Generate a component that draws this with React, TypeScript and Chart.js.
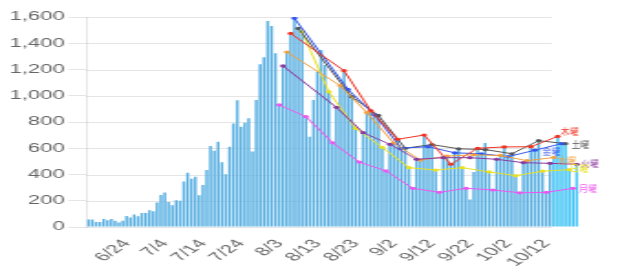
import React, { useEffect, useRef } from 'react';
import { Chart, registerables } from 'chart.js';
Chart.register(...registerables);

// ---- data ----
const START_DATE = '2020-06-14';
const TICK_LABELS = ['6/24', '7/4', '7/14', '7/24', '8/3', '8/13', '8/23', '9/2', '9/12', '9/22', '10/2', '10/12'];
const LAST_WEEK_FROM = '10/14';

const DAILY = [
  57, 57, 38, 38, 61, 51, 61, 48, 35, 48,
  84, 73, 95, 81, 106, 106, 127, 120, 187, 243,
  263, 190, 165, 203, 200, 347, 413, 367, 382, 242,
  320, 434, 617, 581, 650, 493, 401, 612, 788, 965,
  764, 795, 828, 575, 968, 1240, 1293, 1570, 1531, 1323,
  935, 1227, 1340, 1475, 1590, 1513, 1470, 841, 688, 968,
  1183, 1349, 1234, 1031, 642, 912, 1077, 1191, 1049, 993,
  752, 495, 719, 871, 886, 855, 850, 607, 427, 630,
  640, 668, 600, 600, 452, 295, 516, 510, 701, 612,
  628, 434, 264, 528, 540, 478, 565, 596, 452, 300,
  210, 420, 600, 558, 640, 420, 282, 516, 545, 610,
  536, 558, 391, 264, 490, 505, 612, 585, 658, 425,
  269, 485, 530, 700, 635, 635, 437, 297, 478,
];

const MON = [930, 841, 642, 495, 427, 295, 264, 295, 282, 261, 264, 295];
const TUE = [1227, null, 912, 719, 630, 516, 528, 528, 516, 490, 485, 478];
const WED = [1333, null, 1077, 871, 640, 510, 540, 550, 545, 505, 530];
const THU = [1475, null, 1191, 886, 668, 701, 478, 600, 610, 612, 690];
const FRI = [1590, null, 1049, 855, 600, 612, 565, 558, 536, 585, 635];
const SAT = [1513, null, 993, 850, 600, 628, 596, 590, 558, 658, 635];
const SUN = [1488, 1031, 752, 607, 452, 434, 452, 420, 391, 425, 437];

const WEEKDAY_SERIES = [
  { name: '月曜', start: '8/3', values: MON, color: '#ee55ee', dx: 6, dy: 0, align: 'left' },
  { name: '火曜', start: '8/4', values: TUE, color: '#8a3a9e', dx: 4, dy: -1, align: 'left' },
  { name: '水曜', start: '8/5', values: WED, color: '#f0a040', dx: 4, dy: 3, align: 'left' },
  { name: '木曜', start: '8/6', values: THU, color: '#ee3322', dx: 3, dy: -5, align: 'left' },
  { name: '金曜', start: '8/7', values: FRI, color: '#3355ee', dx: -1, dy: 8, align: 'right' },
  { name: '土曜', start: '8/8', values: SAT, color: '#555555', dx: 6, dy: 1, align: 'left' },
  { name: '日曜', start: '8/9', values: SUN, color: '#e8e020', dx: 1, dy: -1, align: 'left' },
];

// ---- layout ----
const W = 339;
const H = 267;
const SX = 620 / W;
const FONT = "'Liberation Sans', Arial, Helvetica, sans-serif";

function buildLabels(): string[] {
  const d = new Date(START_DATE + 'T00:00:00');
  const out: string[] = [];
  for (let i = 0; i < DAILY.length; i++) {
    out.push(`${d.getMonth() + 1}/${d.getDate()}`);
    d.setDate(d.getDate() + 1);
  }
  return out;
}

export default function App() {
  const ref = useRef<HTMLCanvasElement>(null);
  useEffect(() => {
    const canvas = ref.current!;
    const labels = buildLabels();
    const lastWeekIdx = labels.indexOf(LAST_WEEK_FROM);

    const lineSets = WEEKDAY_SERIES.map((s) => {
      const data: (number | null)[] = labels.map(() => null);
      const st = labels.indexOf(s.start);
      s.values.forEach((v, k) => {
        if (st + 7 * k < data.length) data[st + 7 * k] = v;
      });
      return {
        type: 'line' as const,
        label: s.name,
        data,
        borderColor: s.color,
        backgroundColor: s.color,
        borderWidth: 1,
        pointRadius: 1.6,
        pointBorderWidth: 0,
        pointHoverRadius: 1.6,
        spanGaps: true,
        tension: 0,
        order: 0,
        fill: false,
      };
    });

    const barColors = DAILY.map((_, i) => (i >= lastWeekIdx ? 'rgba(62,196,245,1)' : 'rgba(90,176,226,1)'));

    const partialGrid = {
      id: 'partialGrid',
      beforeDatasetsDraw(chart: any) {
        const { ctx, chartArea, scales } = chart;
        const x = scales.x;
        const y = scales.y;
        const half = (x.getPixelForValue(1) - x.getPixelForValue(0)) / 2;
        const endX = x.getPixelForValue(lastWeekIdx) - half;
        ctx.save();
        ctx.strokeStyle = 'rgba(0,0,0,0.1)';
        ctx.lineWidth = 1;
        y.ticks.forEach((t: any) => {
          const py = Math.round(y.getPixelForValue(t.value)) + 0.5;
          ctx.beginPath();
          ctx.moveTo(chartArea.left, py);
          ctx.lineTo(endX, py);
          ctx.stroke();
        });
        ctx.restore();
      },
    };

    const endLabels = {
      id: 'endLabels',
      afterDatasetsDraw(chart: any) {
        const { ctx } = chart;
        chart.data.datasets.forEach((ds: any, i: number) => {
          if (ds.type !== 'line') return;
          const spec = WEEKDAY_SERIES.find((s) => s.name === ds.label)!;
          let idx = -1;
          ds.data.forEach((v: any, k: number) => {
            if (v !== null) idx = k;
          });
          const el = chart.getDatasetMeta(i).data[idx];
          if (!el) return;
          ctx.save();
          ctx.translate(el.x, el.y);
          ctx.scale(1 / SX, 1);
          ctx.fillStyle = spec.color;
          ctx.font = "9px 'Noto Sans CJK JP', sans-serif";
          ctx.textAlign = spec.align;
          ctx.textBaseline = 'middle';
          ctx.fillText(spec.name, spec.dx, spec.dy);
          ctx.restore();
        });
      },
    };

    const chart = new Chart(canvas, {
      type: 'bar',
      data: {
        labels,
        datasets: [
          ...lineSets,
          {
            type: 'bar' as const,
            label: 'daily',
            data: DAILY,
            backgroundColor: barColors,
            borderWidth: 0,
            categoryPercentage: 0.8,
            barPercentage: 0.9,
            order: 10,
          },
        ] as any,
      },
      options: {
        responsive: false,
        animation: false,
        devicePixelRatio: 1,
        layout: { padding: { top: 17, right: 22.6, left: 0, bottom: 0 } },
        plugins: { legend: { display: false }, tooltip: { enabled: false } },
        scales: {
          x: {
            grid: { display: false },
            border: { display: false },
            ticks: {
              autoSkip: false,
              minRotation: 50,
              maxRotation: 50,
              padding: 2,
              color: '#666',
              font: { family: FONT, size: 12 },
              callback: function (this: any, _v: any, i: number) {
                const l = labels[i];
                return TICK_LABELS.includes(l) ? l : '';
              },
            },
            afterFit: (s: any) => {
              s.height = 40;
            },
          },
          y: {
            min: 0,
            max: 1600,
            grid: { drawOnChartArea: false, color: 'rgba(0,0,0,0.1)', tickLength: 10 },
            border: { display: true, color: 'rgba(0,0,0,0.1)' },
            ticks: {
              stepSize: 200,
              padding: 2,
              color: '#666',
              font: { family: FONT, size: 12 },
              callback: (v: any) => Number(v).toLocaleString('en-US'),
            },
            afterFit: (s: any) => {
              s.width = 47.3;
            },
          },
        },
      },
      plugins: [partialGrid, endLabels],
    });
    return () => chart.destroy();
  }, []);

  return (
    <div
      style={{
        position: 'absolute',
        left: 0,
        top: 0,
        width: W,
        height: H,
        transform: `scaleX(${SX})`,
        transformOrigin: '0 0',
      }}
    >
      <canvas ref={ref} width={W} height={H} style={{ width: W, height: H, display: 'block' }} />
    </div>
  );
}
